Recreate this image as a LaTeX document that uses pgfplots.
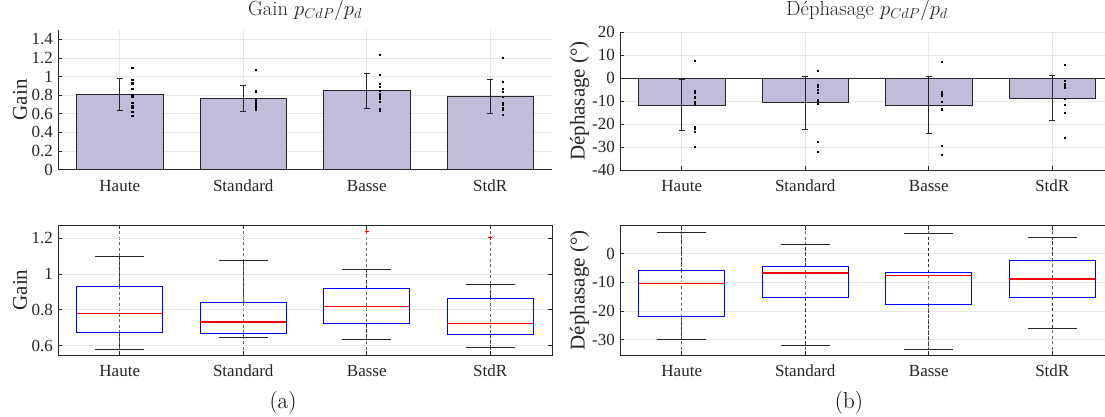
\documentclass[border=0pt]{standalone}
\usepackage{fontspec}
\usepackage{pgfplots}
\pgfplotsset{compat=1.18}
\usepackage{pgfplotstable}
\usepgfplotslibrary{statistics}
\newfontfamily\tnr{Liberation Serif}
\definecolor{barfill}{RGB}{191,189,218}
\definecolor{gridc}{RGB}{230,230,230}
\definecolor{axc}{RGB}{38,38,38}

\pgfplotstableread{
x m s
1 0.805 0.172
2 0.765 0.137
3 0.845 0.188
4 0.788 0.185
}\gainbars
\pgfplotstableread{
x v
1.1 1.096
1.1 0.97
1.1 0.93
1.1 0.87
1.1 0.81
1.1 0.78
1.1 0.72
1.1 0.69
1.1 0.67
1.1 0.62
1.1 0.579
2.1 1.077
2.1 0.85
2.1 0.84
2.1 0.76
2.1 0.74
2.1 0.732
2.1 0.72
2.1 0.70
2.1 0.68
2.1 0.665
2.1 0.648
3.1 1.237
3.1 1.023
3.1 0.92
3.1 0.89
3.1 0.85
3.1 0.82
3.1 0.79
3.1 0.76
3.1 0.73
3.1 0.66
3.1 0.635
4.1 1.202
4.1 0.941
4.1 0.87
4.1 0.84
4.1 0.78
4.1 0.723
4.1 0.72
4.1 0.70
4.1 0.67
4.1 0.64
4.1 0.589
}\gainpts
\pgfplotstableread{
x m s
1 -11.8 11.2
2 -10.8 11.5
3 -11.9 12.4
4 -8.7 9.6
}\phasebars
\pgfplotstableread{
x v
1.1 7.56
1.1 -5.5
1.1 -5.93
1.1 -6.4
1.1 -8.3
1.1 -10.35
1.1 -11.3
1.1 -21.3
1.1 -21.86
1.1 -23.2
1.1 -29.77
2.1 3.26
2.1 -2.9
2.1 -3.7
2.1 -4.9
2.1 -6.2
2.1 -9.6
2.1 -11.0
2.1 -27.7
2.1 -31.86
3.1 7.09
3.1 -6.0
3.1 -6.63
3.1 -7.0
3.1 -7.2
3.1 -7.56
3.1 -10.3
3.1 -13.5
3.1 -29.4
3.1 -33.37
4.1 5.7
4.1 -1.3
4.1 -2.44
4.1 -3.5
4.1 -4.0
4.1 -8.84
4.1 -9.0
4.1 -11.7
4.1 -14.9
4.1 -15.12
4.1 -26.05
}\phasepts

\pgfplotsset{
  common/.style={
    scale only axis, width=494pt, xmin=0.5, xmax=4.5,
    xtick={1,2,3,4}, xticklabels={Haute,Standard,Basse,StdR},
    tick label style={font=\tnr\fontsize{17}{20}\selectfont, text=axc},
    xticklabel style={anchor=base, yshift=-21.5pt, inner sep=0pt},
    yticklabel style={anchor=east, xshift=-5pt, inner sep=0pt},
    label style={font=\tnr\fontsize{21}{24}\selectfont, text=axc},
    tick align=inside, major tick length=4pt,
    every tick/.style={axc, line width=0.6pt},
    axis line style={axc, line width=0.9pt},
    title style={font=\fontsize{20.5}{24}\selectfont, text=axc, at={(axis description cs:0.5,1)}, anchor=base},
  },
  bartop/.style={
    axis x line*=bottom, axis y line*=left,
    grid=major, major grid style={gridc, line width=0.8pt},
  },
  boxbot/.style={
    grid=major, major y grid style={gridc, line width=0.8pt},
    major x grid style={black!60, dash pattern=on 3pt off 2.5pt, line width=0.55pt},
    boxplot/draw direction=y,
    boxplot/every box/.style={draw=blue, line width=1pt},
    boxplot/every median/.style={draw=red, line width=1.3pt},
    boxplot/draw/lower whisker/.code={
      \draw[black!80, dash pattern=on 3pt off 2.5pt, line width=0.6pt]
        (boxplot box cs:\pgfplotsboxplotvalue{lower quartile},0.5) --
        (boxplot box cs:\pgfplotsboxplotvalue{lower whisker},0.5);
      \draw[black!85, line width=1pt]
        (boxplot whisker cs:\pgfplotsboxplotvalue{lower whisker},0) --
        (boxplot whisker cs:\pgfplotsboxplotvalue{lower whisker},1);
    },
    boxplot/draw/upper whisker/.code={
      \draw[black!80, dash pattern=on 3pt off 2.5pt, line width=0.6pt]
        (boxplot box cs:\pgfplotsboxplotvalue{upper quartile},0.5) --
        (boxplot box cs:\pgfplotsboxplotvalue{upper whisker},0.5);
      \draw[black!85, line width=1pt]
        (boxplot whisker cs:\pgfplotsboxplotvalue{upper whisker},0) --
        (boxplot whisker cs:\pgfplotsboxplotvalue{upper whisker},1);
    },
  },
  barplot/.style={ybar, bar width=0.7, bar shift=0pt, fill=barfill, draw=black!85, line width=0.9pt,
    error bars/.cd, y dir=both, y explicit,
    error bar style={black!85, line width=0.9pt},
    error mark options={rotate=90, mark size=3pt, black!85, line width=0.9pt}},
  dots/.style={only marks, mark=square*, mark size=0.55pt, black, mark options={line width=0.1pt}},
}

\begin{document}
\begin{tikzpicture}
\useasboundingbox (0,0) rectangle (1105pt,416pt);

% ---- top left
\begin{axis}[common, bartop, at={(58pt,246.5pt)}, anchor=south west, height=139.5pt,
  ymin=0, ymax=1.5, ytick={0,0.2,0.4,0.6,0.8,1,1.2,1.4},
  yticklabels={0,0.2,0.4,0.6,0.8,1,1.2,1.4},
  ylabel={Gain}, ylabel style={at={(axis description cs:-0.077,0.5)}, anchor=center},
  title={Gain $p_{CdP}/p_d$}, title style={yshift=9pt},
]
\addplot[barplot] table[x=x, y=m, y error=s]{\gainbars};
\addplot[dots] table[x=x, y=v]{\gainpts};
\end{axis}

% ---- top right
\begin{axis}[common, bartop, at={(620pt,246pt)}, anchor=south west, height=138pt,
  ymin=-40, ymax=20, ytick={-40,-30,-20,-10,0,10,20},
  yticklabels={-40,-30,-20,-10,0,10,20},
  ylabel={Déphasage (°)}, ylabel style={at={(axis description cs:-0.082,0.5)}, anchor=center},
  title={Déphasage $p_{CdP}/p_d$}, title style={yshift=10.5pt},
]
\addplot[barplot] table[x=x, y=m, y error=s]{\phasebars};
\addplot[axc, line width=0.9pt, forget plot] coordinates {(0.5,0) (4.5,0)};
\addplot[dots] table[x=x, y=v]{\phasepts};
\end{axis}

% ---- bottom left
\begin{axis}[common, boxbot, at={(58pt,61pt)}, anchor=south west, height=130pt,
  ymin=0.548, ymax=1.2725, ytick={0.6,0.8,1,1.2}, yticklabels={0.6,0.8,1,1.2},
  ylabel={Gain}, ylabel style={at={(axis description cs:-0.077,0.5)}, anchor=center},
]
\addplot[black, boxplot prepared={draw position=1, lower whisker=0.579, lower quartile=0.671, median=0.781, upper quartile=0.928, upper whisker=1.096, box extend=0.7, whisker extend=0.4}] coordinates {};
\addplot[black, boxplot prepared={draw position=2, lower whisker=0.648, lower quartile=0.669, median=0.732, upper quartile=0.840, upper whisker=1.077, box extend=0.7, whisker extend=0.4}] coordinates {};
\addplot[black, boxplot prepared={draw position=3, lower whisker=0.635, lower quartile=0.725, median=0.820, upper quartile=0.921, upper whisker=1.023, box extend=0.7, whisker extend=0.4}] coordinates {};
\addplot[black, boxplot prepared={draw position=4, lower whisker=0.589, lower quartile=0.663, median=0.723, upper quartile=0.863, upper whisker=0.941, box extend=0.7, whisker extend=0.4}] coordinates {};
\addplot[only marks, mark=+, mark size=2pt, red, line width=0.7pt] coordinates {(3,1.237) (4,1.202)};
\end{axis}

% ---- bottom right
\begin{axis}[common, boxbot, at={(620pt,61pt)}, anchor=south west, height=129.3pt,
  ymin=-35.34, ymax=9.77, ytick={-30,-20,-10,0}, yticklabels={-30,-20,-10,0},
  ylabel={Déphasage (°)}, ylabel style={at={(axis description cs:-0.082,0.5)}, anchor=center},
]
\addplot[black, boxplot prepared={draw position=1, lower whisker=-29.77, lower quartile=-21.86, median=-10.35, upper quartile=-5.93, upper whisker=7.56, box extend=0.7, whisker extend=0.4}] coordinates {};
\addplot[black, boxplot prepared={draw position=2, lower whisker=-31.86, lower quartile=-15.35, median=-6.74, upper quartile=-4.3, upper whisker=3.26, box extend=0.7, whisker extend=0.4}] coordinates {};
\addplot[black, boxplot prepared={draw position=3, lower whisker=-33.37, lower quartile=-17.67, median=-7.56, upper quartile=-6.63, upper whisker=7.09, box extend=0.7, whisker extend=0.4}] coordinates {};
\addplot[black, boxplot prepared={draw position=4, lower whisker=-26.05, lower quartile=-15.12, median=-8.84, upper quartile=-2.44, upper whisker=5.7, box extend=0.7, whisker extend=0.4}] coordinates {};
\end{axis}

\node[font=\fontsize{23}{27}\selectfont] at (283pt,13pt) {(a)};
\node[font=\fontsize{23}{27}\selectfont] at (849pt,13pt) {(b)};
\end{tikzpicture}
\end{document}
